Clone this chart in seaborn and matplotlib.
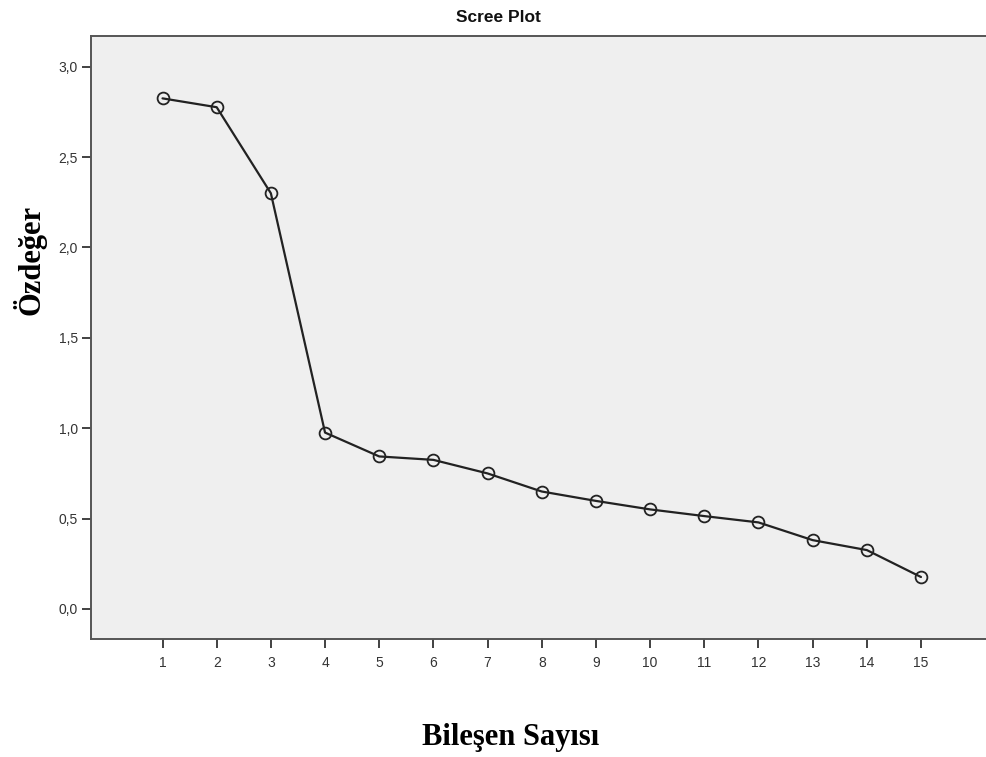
import matplotlib
matplotlib.use('Agg')
import matplotlib.pyplot as plt
import seaborn as sns
import pandas as pd

# Data
components = list(range(1, 16))
eigenvalues = [2.825, 2.776, 2.30, 0.976, 0.844, 0.825, 0.75, 0.65, 0.598,
               0.551, 0.514, 0.479, 0.381, 0.326, 0.177]
yticks = [0.0, 0.5, 1.0, 1.5, 2.0, 2.5, 3.0]
yticklabels = ['0,0', '0,5', '1,0', '1,5', '2,0', '2,5', '3,0']

df = pd.DataFrame({'Bileşen': components, 'Özdeğer': eigenvalues})

sns.set_style('white')
plt.rcParams['font.family'] = ['Liberation Sans', 'DejaVu Sans']

fig = plt.figure(figsize=(9.86, 7.57), dpi=100)
ax = fig.add_axes([91/986, 1 - 639/757, 1 - 91/986, (639 - 36)/757])
ax.set_facecolor('#efefef')

sns.lineplot(data=df, x='Bileşen', y='Özdeğer', ax=ax, color='#222222', lw=1.6,
             marker='o', markersize=8.5, markerfacecolor='none',
             markeredgecolor='#222222', markeredgewidth=1.3)

ax.set_xlim(-0.32, 16.2)
ax.set_ylim(-0.166, 3.17)
ax.set_xticks(components)
ax.set_xticklabels([str(c) for c in components])
ax.set_yticks(yticks)
ax.set_yticklabels(yticklabels)
ax.tick_params(axis='both', direction='out', length=6.5, width=1.3, color='#333333',
               labelsize=10, labelcolor='#333333', pad=3,
               bottom=True, left=True)
ax.tick_params(axis='x', pad=6)
ax.set_xlabel('')
ax.set_ylabel('')
for s in ['left', 'bottom', 'top']:
    ax.spines[s].set_color('#555555')
    ax.spines[s].set_linewidth(1.4)
ax.spines['right'].set_visible(False)

fig.text(498/986, 1 - 18/757, 'Scree Plot', ha='center', va='center',
         fontsize=12.5, fontweight='bold', color='#111111')
fig.text(511/986, 1 - 737/757, 'Bileşen Sayısı', ha='center', va='center',
         fontsize=22, fontweight='bold', family='Liberation Serif', color='black')
fig.text(30/986, 1 - 260/757, 'Özdeğer', ha='center', va='center', rotation=90,
         fontsize=22, fontweight='bold', family='Liberation Serif', color='black')

fig.savefig('out.png', dpi=100)
